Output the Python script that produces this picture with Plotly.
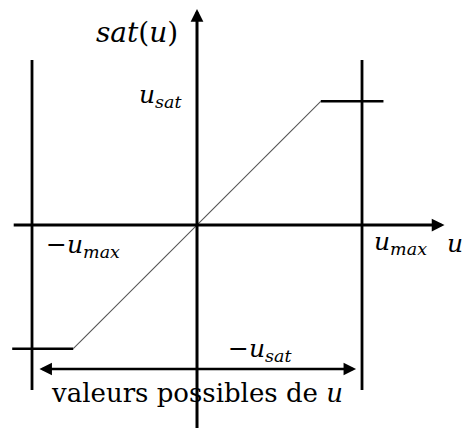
"""
saturation function sketch
"""
import plotly.graph_objects as go

# values (in units of u_max)
u_max = 1.0
u_sat = 0.75
u_in = [-1.12, -0.75, 0.75, 1.13]
sat_out = [-0.75, -0.75, 0.75, 0.75]
limit_x = [-1.0, 1.0]
limit_y = [-1.0, 1.0]
axis_x_ext = [-1.12, 1.50]
axis_y_ext = [-1.24, 1.31]
range_ends = [-0.964, 0.964]
range_level = -0.873

SERIF = "DejaVu Serif, Liberation Serif, serif"

fig = go.Figure()

# vertical lines at +/- u_max
for xv in limit_x:
    fig.add_trace(go.Scatter(x=[xv, xv], y=limit_y, mode="lines",
                             line=dict(color="black", width=2.8), hoverinfo="skip"))

# saturated parts (thick) and linear part (thin grey)
fig.add_trace(go.Scatter(x=[u_in[0], u_in[1], None, u_in[2], u_in[3]],
                         y=[sat_out[0], sat_out[1], None, sat_out[2], sat_out[3]],
                         mode="lines", line=dict(color="black", width=2.5), hoverinfo="skip"))
fig.add_trace(go.Scatter(x=u_in[1:3], y=sat_out[1:3], mode="lines",
                         line=dict(color="#555555", width=1.1), hoverinfo="skip"))

# axes with arrows
fig.add_annotation(x=axis_x_ext[1], y=0, ax=axis_x_ext[0], ay=0, xref="x", yref="y",
                   axref="x", ayref="y", showarrow=True, arrowhead=2, arrowsize=0.85,
                   arrowwidth=3, arrowcolor="black", text="")
fig.add_annotation(x=0, y=axis_y_ext[1], ax=0, ay=axis_y_ext[0], xref="x", yref="y",
                   axref="x", ayref="y", showarrow=True, arrowhead=2, arrowsize=0.85,
                   arrowwidth=3, arrowcolor="black", text="")
# range of possible u
fig.add_annotation(x=range_ends[1], y=range_level, ax=range_ends[0], ay=range_level,
                   xref="x", yref="y", axref="x", ayref="y", showarrow=True,
                   arrowhead=2, startarrowhead=2, arrowside="end+start", arrowsize=1,
                   startarrowsize=1, arrowwidth=2.5, arrowcolor="black", text="")

# labels
lab = dict(family=SERIF, size=25, color="black")
fig.add_annotation(x=-0.364, y=1.164, text="<i>sat</i>(<i>u</i>)", showarrow=False,
                   font=dict(family=SERIF, size=28, color="black"))
fig.add_annotation(x=-0.07, y=u_sat + 0.03, xanchor="right", showarrow=False,
                   text="<i>u</i><sub><i>sat</i></sub>", font=lab)
fig.add_annotation(x=-0.93, y=-0.13, xanchor="left", showarrow=False,
                   text="−<i>u</i><sub><i>max</i></sub>", font=lab)
fig.add_annotation(x=u_max + 0.06, y=-0.11, xanchor="left", showarrow=False,
                   text="<i>u</i><sub><i>max</i></sub>", font=lab)
fig.add_annotation(x=1.565, y=-0.11, showarrow=False, text="<i>u</i>", font=lab)
fig.add_annotation(x=0.175, y=-u_sat - 0.01, xanchor="left", showarrow=False,
                   text="−<i>u</i><sub><i>sat</i></sub>", font=lab)
fig.add_annotation(x=0, y=-1.02, showarrow=False, text="valeurs possibles de <i>u</i>",
                   font=dict(family=SERIF, size=26, color="black"))

fig.update_layout(width=462, height=435, autosize=False, showlegend=False,
                  margin=dict(l=0, r=0, t=0, b=0),
                  plot_bgcolor="white", paper_bgcolor="white",
                  xaxis=dict(range=[-1.194, 1.606], visible=False, fixedrange=True),
                  yaxis=dict(range=[-1.273, 1.364], visible=False, fixedrange=True))

fig.write_html("out.html", config={"displayModeBar": False},
               post_script="document.body.style.margin='0';")
